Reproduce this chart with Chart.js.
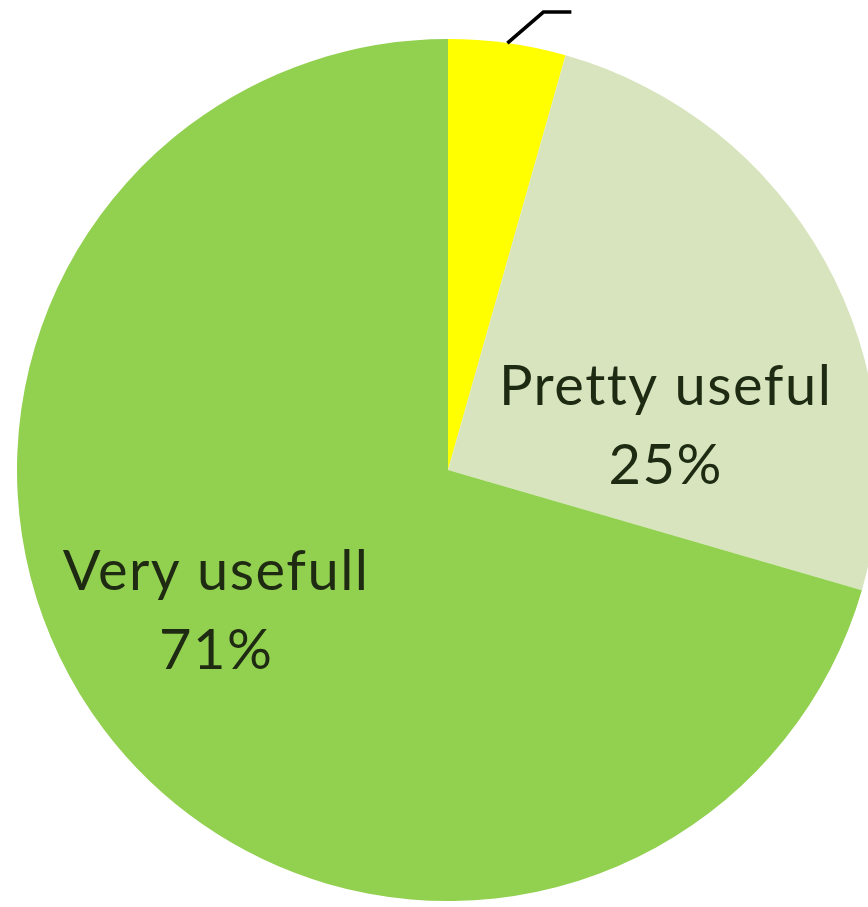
<!DOCTYPE html>
<html>
<head>
<meta charset="utf-8">
<script src="https://cdn.jsdelivr.net/npm/chart.js@4"></script>
<style>
  html, body { margin: 0; padding: 0; background: #ffffff; overflow: hidden; width: 868px; height: 907px; }
  #c { position: absolute; left: 0; top: 0; }
</style>
</head>
<body>
<canvas id="c" width="896" height="940"></canvas>
<script>
const categories = ["Not useful", "Pretty useful", "Very usefull"];
const shares = [4.4, 25.1, 70.5];
const percentLabels = ["4%", "25%", "71%"];
const sliceColors = ["#FFFF00", "#D7E4BD", "#92D050"];

const labelPlugin = {
  id: 'sliceLabels',
  afterDatasetsDraw(chart, args, opts) {
    const ctx = chart.ctx;
    const meta = chart.getDatasetMeta(0);
    ctx.save();
    ctx.font = opts.font;
    ctx.fillStyle = opts.color;
    ctx.textAlign = 'center';
    ctx.textBaseline = 'alphabetic';
    if ('letterSpacing' in ctx) ctx.letterSpacing = opts.letterSpacing;
    meta.data.forEach((arc, i) => {
      const p = opts.placements[i];
      const r = arc.outerRadius;
      if (p.leader) {
        const mid = (arc.startAngle + arc.endAngle) / 2;
        const x0 = arc.x + Math.cos(mid) * r;
        const y0 = arc.y + Math.sin(mid) * r;
        ctx.strokeStyle = '#000000';
        ctx.lineWidth = 3.5;
        ctx.beginPath();
        ctx.moveTo(x0, y0);
        ctx.lineTo(x0 + p.leader[0], y0 + p.leader[1]);
        ctx.lineTo(x0 + p.leader[0] + p.leader[2], y0 + p.leader[1]);
        ctx.stroke();
        return;
      }
      const cx = arc.x + p.dx * r;
      const cy = arc.y + p.dy * r;
      ctx.fillText(categories[i], cx, cy);
      ctx.fillText(percentLabels[i], cx, cy + opts.lineGap);
    });
    ctx.restore();
  }
};

new Chart(document.getElementById('c'), {
  type: 'pie',
  data: {
    labels: categories,
    datasets: [{
      data: shares,
      backgroundColor: sliceColors,
      borderWidth: 0,
      hoverOffset: 0
    }]
  },
  options: {
    responsive: false,
    animation: false,
    events: [],
    layout: { padding: { left: 17, right: 17, top: 39, bottom: 39 } },
    plugins: {
      legend: { display: false },
      tooltip: { enabled: false },
      sliceLabels: {
        font: '56px Lato, "Open Sans", sans-serif',
        letterSpacing: '1.5px',
        color: '#1E2A12',
        lineGap: 79,
        placements: [
          { leader: [36, -31, 28] },
          { dx: 0.505, dy: -0.151 },
          { dx: -0.538, dy: 0.278 }
        ]
      }
    }
  },
  plugins: [labelPlugin]
});
</script>
</body>
</html>
